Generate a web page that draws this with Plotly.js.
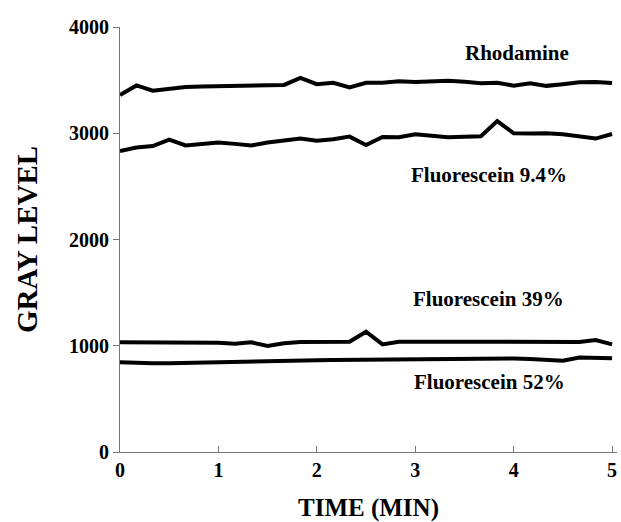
<!DOCTYPE html>
<html>
<head>
<meta charset="utf-8">
<script src="https://cdn.plot.ly/plotly-3.0.1.min.js"></script>
<style>html,body{margin:0;padding:0;background:#fff;}#chart{width:621px;height:522px;}</style>
</head>
<body>
<div id="chart"></div>
<script>
// Time in minutes (10-second samples)
const timeMin = [0, 0.167, 0.333, 0.5, 0.667, 0.833, 1.0, 1.167, 1.333, 1.5, 1.667, 1.833, 2.0, 2.167, 2.333, 2.5, 2.667, 2.833, 3.0, 3.167, 3.333, 3.5, 3.667, 3.833, 4.0, 4.167, 4.333, 4.5, 4.667, 4.833, 5.0];

const rhodamine = [3360, 3450, 3400, 3415, 3435, 3440, 3445, 3448, 3450, 3452, 3455, 3520, 3462, 3475, 3432, 3475, 3476, 3490, 3482, 3488, 3495, 3485, 3470, 3476, 3448, 3470, 3446, 3462, 3480, 3482, 3472];

const fluor94 = [2833, 2865, 2880, 2940, 2885, 2898, 2912, 2900, 2885, 2912, 2930, 2950, 2930, 2943, 2968, 2890, 2965, 2962, 2990, 2975, 2962, 2968, 2972, 3115, 3000, 2998, 3000, 2990, 2968, 2950, 2993];

const fluor39 = [1032, 1032, 1032, 1035, 1032, 1030, 1028, 1018, 1032, 998, 1023, 1035, 1038, 1038, 1038, 1132, 1013, 1038, 1038, 1038, 1038, 1038, 1036, 1036, 1030, 1032, 1036, 1032, 1036, 1054, 1013];

const fluor52 = [844, 838, 835, 836, 840, 845, 848, 850, 853, 856, 860, 862, 864, 866, 868, 870, 871, 872, 874, 876, 878, 880, 882, 882, 880, 875, 868, 860, 890, 888, 882];

const seriesNames = ["Rhodamine", "Fluorescein 9.4%", "Fluorescein 39%", "Fluorescein 52%"];
const seriesData = [rhodamine, fluor94, fluor39, fluor52];
const labelX = [4.03, 3.75, 3.74, 3.75];
const labelY = [3755, 2607, 1440, 659];

const xTicks = [0, 1, 2, 3, 4, 5];
const yTicks = [0, 1000, 2000, 3000, 4000];

const FONT = "'Liberation Serif', 'Times New Roman', serif";

const traces = seriesData.map((ys, i) => ({
  x: timeMin, y: ys, name: seriesNames[i], type: 'scatter', mode: 'lines',
  line: {color: '#000', width: 4, shape: 'linear'}, hoverinfo: 'skip'
}));

const annotations = seriesNames.map((n, i) => ({
  x: labelX[i], y: labelY[i], xref: 'x', yref: 'y', text: '<b>' + n + '</b>',
  showarrow: false, font: {family: FONT, size: 21, color: '#000'}
}));

const layout = {
  width: 621, height: 522,
  margin: {l: 120, r: 4, t: 27, b: 70, pad: 0},
  paper_bgcolor: '#fff', plot_bgcolor: '#fff',
  showlegend: false,
  font: {family: FONT, color: '#000'},
  xaxis: {
    range: [0, 5.05], tickvals: xTicks, ticktext: xTicks.map(v => '<b>' + v + '</b>'),
    ticks: 'inside', ticklen: 6, tickcolor: '#777', tickwidth: 1,
    showline: true, linecolor: '#777', linewidth: 1, showgrid: false, zeroline: false,
    tickfont: {family: FONT, size: 20, color: '#000'},
    title: {text: '<b>TIME (MIN)</b>', font: {family: FONT, size: 25, color: '#000'}, standoff: 20}
  },
  yaxis: {
    range: [0, 4000], tickvals: yTicks, ticktext: yTicks.map(v => '<b>' + v + '</b>'),
    ticks: 'outside', ticklen: 6, tickcolor: '#777', tickwidth: 1,
    showline: true, linecolor: '#777', linewidth: 1, showgrid: false, zeroline: false,
    tickfont: {family: FONT, size: 20, color: '#000'},
    title: {text: '<b>GRAY LEVEL</b>', font: {family: FONT, size: 29, color: '#000'}, standoff: 22}
  },
  annotations: annotations
};

Plotly.newPlot('chart', traces, layout, {displayModeBar: false, staticPlot: true});
</script>
</body>
</html>
